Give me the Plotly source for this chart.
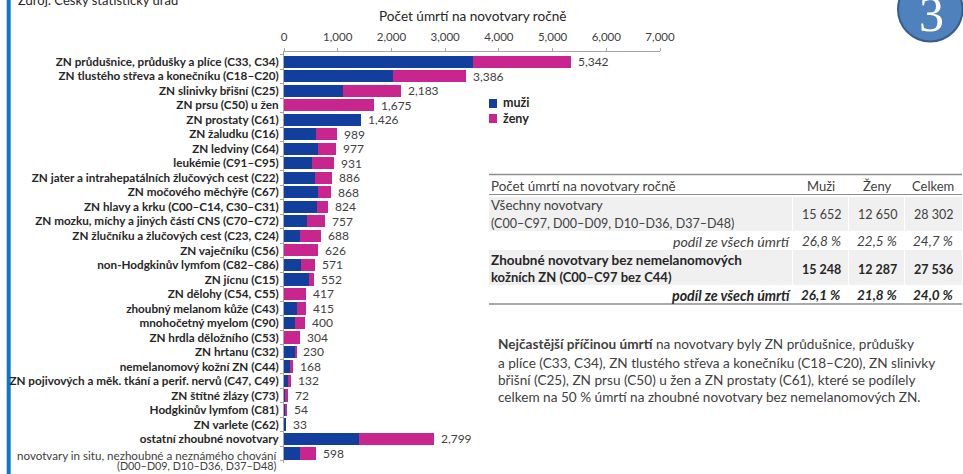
import plotly.graph_objects as go

W, H = 963, 474

categories = [
    "ZN průdušnice, průdušky a plíce (C33, C34)",
    "ZN tlustého střeva a konečníku (C18–C20)",
    "ZN slinivky břišní (C25)",
    "ZN prsu (C50) u žen",
    "ZN prostaty (C61)",
    "ZN žaludku (C16)",
    "ZN ledviny (C64)",
    "leukémie (C91–C95)",
    "ZN jater a intrahepatálních žlučových cest (C22)",
    "ZN močového měchýře (C67)",
    "ZN hlavy a krku (C00–C14, C30–C31)",
    "ZN mozku, míchy a jiných částí CNS (C70–C72)",
    "ZN žlučníku a žlučových cest (C23, C24)",
    "ZN vaječníku (C56)",
    "non-Hodgkinův lymfom (C82–C86)",
    "ZN jícnu (C15)",
    "ZN dělohy (C54, C55)",
    "zhoubný melanom kůže (C43)",
    "mnohočetný myelom (C90)",
    "ZN hrdla děložního (C53)",
    "ZN hrtanu (C32)",
    "nemelanomový kožní ZN (C44)",
    "ZN pojivových a měk. tkání a perif. nervů (C47, C49)",
    "ZN štítné žlázy (C73)",
    "Hodgkinův lymfom (C81)",
    "ZN varlete (C62)",
    "ostatní zhoubné novotvary",
    "novotvary in situ, nezhoubné a neznámého chování",
]
last_label_second_line = "(D00–D09, D10–D36, D37–D48)"
totals = [5342, 3386, 2183, 1675, 1426, 989, 977, 931, 886, 868, 824, 757, 688, 626,
          571, 552, 417, 415, 400, 304, 230, 168, 132, 72, 54, 33, 2799, 598]
men = [3525, 2030, 1105, 0, 1426, 596, 633, 515, 571, 633, 620, 422, 298, 0,
       322, 459, 0, 248, 211, 0, 205, 112, 69, 37, 30, 33, 1391, 304]
women = [1817, 1356, 1078, 1675, 0, 393, 344, 416, 315, 235, 204, 335, 390, 626,
         249, 93, 417, 167, 189, 304, 25, 56, 63, 35, 24, 0, 1408, 294]
x_ticks = [0, 1000, 2000, 3000, 4000, 5000, 6000, 7000]
x_labels = ["0", "1,000", "2,000", "3,000", "4,000", "5,000", "6,000", "7,000"]

table_header = ["Počet úmrtí na novotvary ročně", "Muži", "Ženy", "Celkem"]
all_label = ["Všechny novotvary", "(C00–C97, D00–D09, D10–D36, D37–D48)"]
all_values = ["15 652", "12 650", "28 302"]
all_share = ["26,8 %", "22,5 %", "24,7 %"]
malign_label = ["Zhoubné novotvary bez nemelanomových", "kožních ZN (C00–C97 bez C44)"]
malign_values = ["15 248", "12 287", "27 536"]
malign_share = ["26,1 %", "21,8 %", "24,0 %"]
share_label = "podíl ze všech úmrtí"

note_lines = [
    "<b>Nejčastější příčinou úmrtí</b> na novotvary byly ZN průdušnice, průdušky",
    "a plíce (C33, C34), ZN tlustého střeva a konečníku (C18–C20), ZN slinivky",
    "břišní (C25), ZN prsu (C50) u žen a ZN prostaty (C61), které se podílely",
    "celkem na 50 % úmrtí na zhoubné novotvary bez nemelanomových ZN.",
]

BLUE = "#123f9e"
PINK = "#c9258f"
FONT = "Lato"
DARK = "#262626"
GREY = "#404040"
AXIS = "#a6a6a6"


def fx(px):
    return px / W


def fy(py):
    return 1 - py / H


fig = go.Figure()
fig.add_bar(y=categories, x=men, orientation="h", marker=dict(color=BLUE, line_width=0),
            name="muži", hoverinfo="skip")
fig.add_bar(y=categories, x=women, orientation="h", marker=dict(color=PINK, line_width=0),
            name="ženy", hoverinfo="skip")

annotations = []
shapes = []


def text(px, py, s, size=12, color=GREY, anchor="left", bold=False, italic=False):
    if bold:
        s = f"<b>{s}</b>"
    if italic:
        s = f"<i>{s}</i>"
    annotations.append(dict(x=fx(px), y=fy(py), xref="paper", yref="paper", text=s,
                            showarrow=False, xanchor=anchor, yanchor="middle",
                            borderpad=0, font=dict(family=FONT, size=size, color=color)))


def rect(x0, y0, x1, y1, fill):
    shapes.append(dict(type="rect", xref="paper", yref="paper", x0=fx(x0), x1=fx(x1),
                       y0=fy(y0), y1=fy(y1), fillcolor=fill, line_width=0, layer="below"))


def hline(x0, x1, py, color, width):
    shapes.append(dict(type="line", xref="paper", yref="paper", x0=fx(x0), x1=fx(x1),
                       y0=fy(py), y1=fy(py), line=dict(color=color, width=width)))


# Totals sit just past the end of each stacked bar
for cat, total in zip(categories, totals):
    annotations.append(dict(x=total, y=cat, xref="x", yref="y", text=f"{total:,}",
                            showarrow=False, xanchor="left", yanchor="middle", xshift=5,
                            font=dict(family=FONT, size=12, color=GREY)))

# Page furniture: left rule, source line, chapter badge
rect(6.7, 0, 10.7, H, "#0b78c8")
text(17, 0, "Zdroj: Český statistický úřad", size=13, color=DARK)
shapes.append(dict(type="circle", xref="paper", yref="paper", x0=fx(898), x1=fx(962.5),
                   y0=fy(41.5), y1=fy(-23), fillcolor="#4f81bd",
                   line=dict(color="#385d8a", width=2)))
text(931, 14, "3", size=50, color="#ffffff", anchor="center")
annotations[-1]["font"]["family"] = "Liberation Serif"

text(472, 16, "Počet úmrtí na novotvary ročně", size=13.6, color=DARK, anchor="center")

# Two-line label of the last row, with tighter leading than a tick label allows
text(278, 455, categories[-1], size=11.6, color=GREY, anchor="right")
text(278, 465, last_label_second_line, size=10.8, color=GREY, anchor="right")

# Legend
rect(489, 99, 497, 108, BLUE)
text(502, 102, "muži", size=12.5, color=DARK, bold=True)
rect(489, 114, 497, 123, PINK)
text(502, 118, "ženy", size=12.5, color=DARK, bold=True)

# Summary table
value_x = [821, 877, 933]
for top, bottom in [(197, 231), (250, 285)]:
    for a, b in [(489, 792), (793, 848), (849, 904), (905, 962)]:
        rect(a, top, b, bottom, "#f0f0f0")
hline(489, 962, 174.5, "#8c8c8c", 1.5)
hline(489, 962, 194.5, "#8c8c8c", 1)
hline(489, 962, 304, "#8c8c8c", 1.5)

text(490, 186, table_header[0], size=13.4)
for x, s in zip(value_x, table_header[1:]):
    text(x, 186, s, size=13, anchor="center")
text(490, 205, all_label[0], size=13.4)
text(490, 223, all_label[1], size=12.5)
for x, s in zip(value_x, all_values):
    text(x, 214, s, size=12.5, anchor="center")
text(792, 241, share_label, size=14.2, anchor="right", italic=True)
for x, s in zip(value_x, all_share):
    text(x, 241, s, size=13.5, anchor="center", italic=True)
text(490, 260, malign_label[0], size=13.5, color=DARK, bold=True)
text(490, 277, malign_label[1], size=13, color=DARK, bold=True)
for x, s in zip(value_x, malign_values):
    text(x, 269, s, size=12.5, color=DARK, anchor="center", bold=True)
text(792, 295, share_label, size=14.2, color=DARK, anchor="right", bold=True, italic=True)
for x, s in zip(value_x, malign_share):
    text(x, 295, s, size=13.5, color=DARK, anchor="center", bold=True, italic=True)

# Commentary paragraph
for py, line in zip([344, 363, 380, 397], note_lines):
    text(497, py, line, size=13.6, color=GREY)

tick_text = [f"<b>{c}</b>" for c in categories[:-1]] + [" "]

fig.update_layout(
    template="none",
    width=W, height=H, margin=dict(l=0, r=0, t=0, b=0),
    paper_bgcolor="#ffffff", plot_bgcolor="#ffffff",
    barmode="stack", bargap=0.16, autosize=False,
    annotations=annotations, shapes=shapes, showlegend=False,
    xaxis=dict(domain=[fx(284), fx(660)], range=[0, 7000], side="top", anchor="y",
               automargin=False, tickvals=x_ticks, ticktext=x_labels, ticks="outside",
               ticklen=3, tickcolor=AXIS, showgrid=False, zeroline=False, showline=True,
               linecolor=AXIS, linewidth=1, ticklabelstandoff=3,
               tickfont=dict(family=FONT, size=11.5, color=GREY)),
    yaxis=dict(domain=[fy(463), fy(52.3)], autorange="reversed", type="category",
               automargin=False, tickmode="array", tickvals=categories, ticktext=tick_text,
               tickson="boundaries", ticks="outside", ticklen=3, tickcolor=AXIS,
               showgrid=False, zeroline=False, showline=True, linecolor=AXIS, linewidth=1,
               ticklabelstandoff=2, tickfont=dict(family=FONT, size=11.7, color=DARK)),
)

fig.write_html("out.html")
